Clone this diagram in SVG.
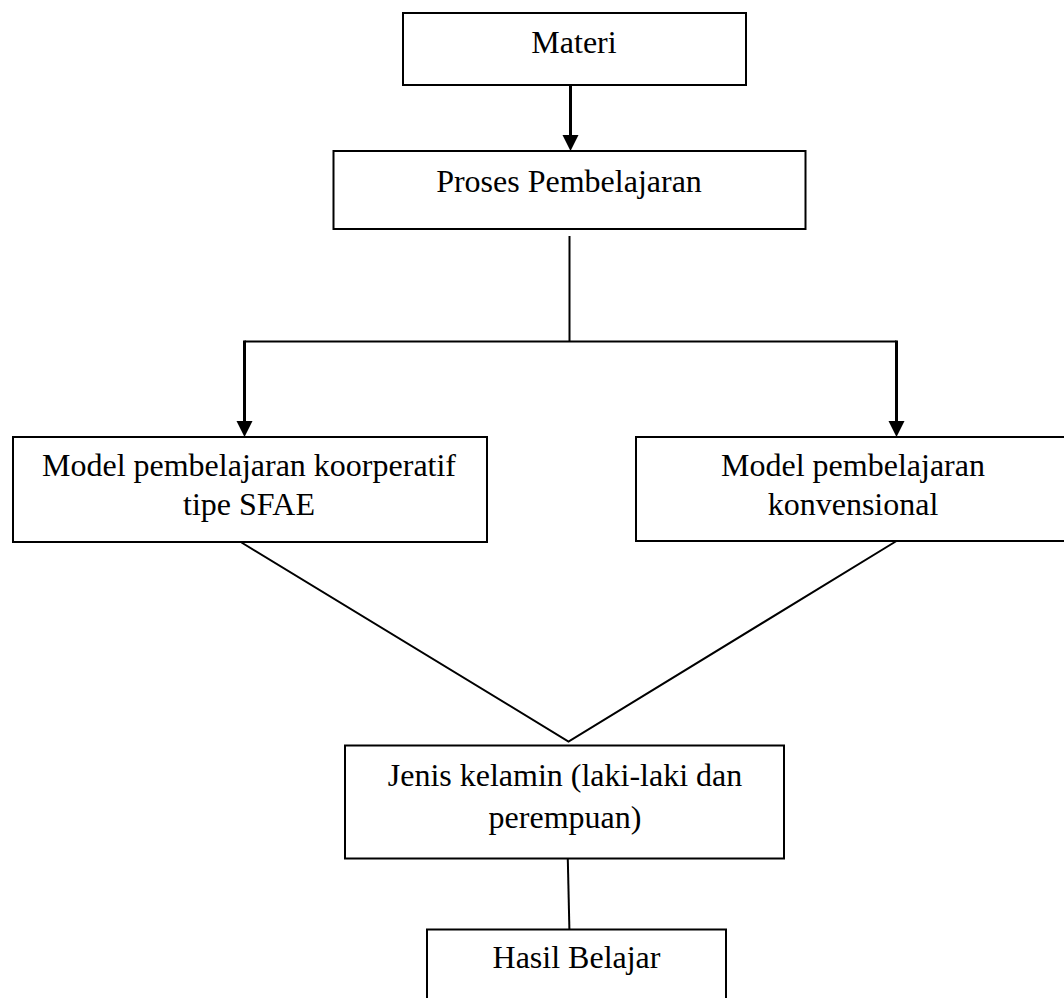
<svg xmlns="http://www.w3.org/2000/svg" width="1064" height="998" viewBox="0 0 1064 998">
<style>
.box{fill:#fff;stroke:#000;stroke-width:2}
.t{font-family:"Liberation Serif","Times New Roman",serif;font-size:32px;fill:#000;text-anchor:middle}
.c{fill:none;stroke:#000;stroke-width:2}
.thick{stroke-width:3}
.head{fill:#000}
</style>
<rect width="1064" height="998" fill="#fff"/>
<g id="connectors">
<line class="c thick" x1="570.5" y1="80" x2="570.5" y2="137"/>
<path class="head" d="M562.5,135 L578.5,135 L570.5,151 z"/>
<line class="c" x1="569.5" y1="236" x2="569.5" y2="341.5"/>
<polyline class="c" points="244.5,341.5 896.5,341.5"/>
<line class="c thick" x1="244.5" y1="340.5" x2="244.5" y2="423"/>
<line class="c thick" x1="896.5" y1="340.5" x2="896.5" y2="423"/>
<path class="head" d="M236.5,421 L252.5,421 L244.5,437 z"/>
<path class="head" d="M888.5,421 L904.5,421 L896.5,437 z"/>
<polyline class="c" points="241.5,542.5 568.5,741.5 896.5,541"/>
<line class="c" x1="567.8" y1="859" x2="569.4" y2="929.5"/>
</g>
<g id="n-materi">
<rect class="box" x="403" y="13" width="343" height="72"/>
<text class="t" x="574" y="53">Materi</text>
</g>
<g id="n-proses">
<rect class="box" x="333.5" y="151" width="472" height="78"/>
<text class="t" x="569" y="191.5">Proses Pembelajaran</text>
</g>
<g id="n-sfae">
<rect class="box" x="13" y="437" width="474" height="105"/>
<text class="t" x="249" y="475.5">Model pembelajaran koorperatif</text>
<text class="t" x="249" y="515">tipe SFAE</text>
</g>
<g id="n-konv">
<rect class="box" x="636" y="437" width="440" height="104"/>
<text class="t" x="853" y="475.5">Model pembelajaran</text>
<text class="t" x="853" y="515">konvensional</text>
</g>
<g id="n-jenis">
<rect class="box" x="345" y="745.5" width="439" height="113"/>
<text class="t" x="565" y="786">Jenis kelamin (laki-laki dan</text>
<text class="t" x="565" y="828">perempuan)</text>
</g>
<g id="n-hasil">
<rect class="box" x="427" y="929.5" width="299" height="80"/>
<text class="t" x="576.5" y="968">Hasil Belajar</text>
</g>
</svg>
